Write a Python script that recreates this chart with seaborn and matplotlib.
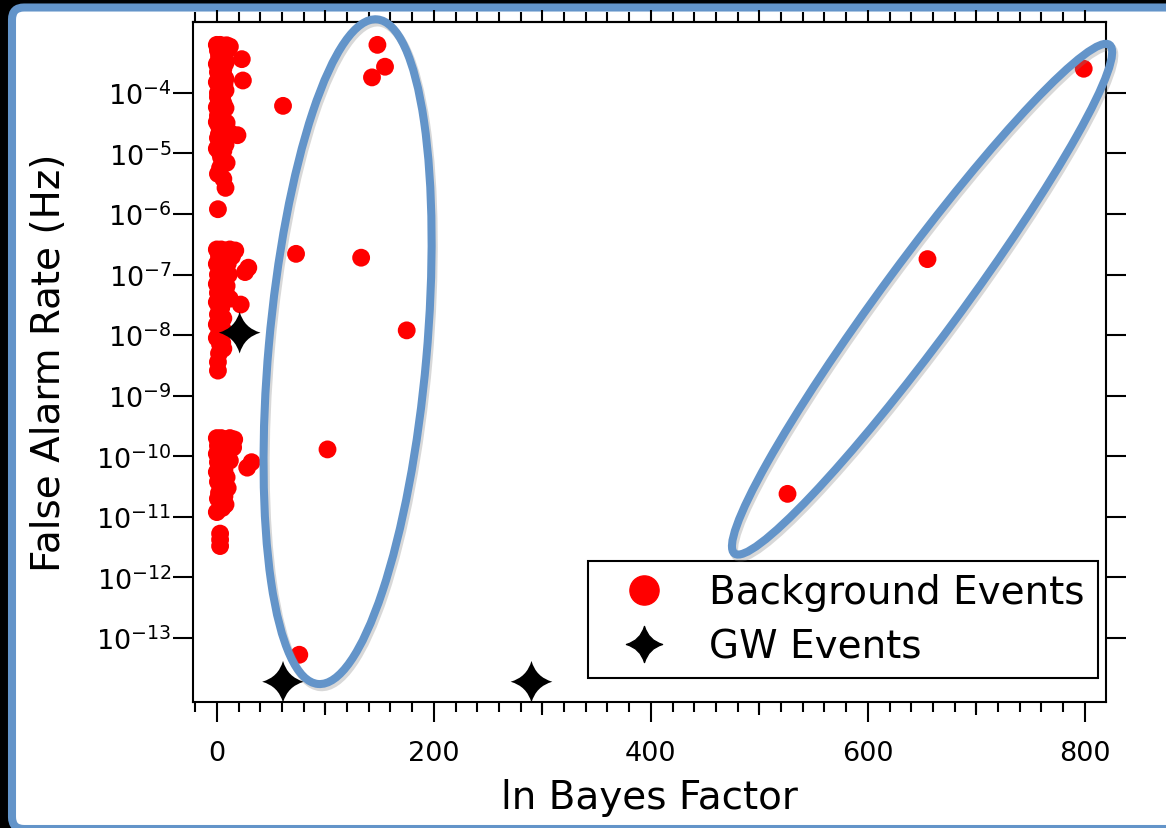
import numpy as np
import matplotlib
matplotlib.use("Agg")
import matplotlib.pyplot as plt
import seaborn as sns
from matplotlib.path import Path
from matplotlib.patches import Ellipse, FancyBboxPatch
from matplotlib.lines import Line2D
from matplotlib.ticker import MultipleLocator, NullLocator
from matplotlib.transforms import IdentityTransform

# -------------------------------
# DATA
# -------------------------------
# background events: ln Bayes factor / false alarm rate (Hz)
bg_lnbf = [
    # upper group
    0, 3, 6, 9, 12, 1, 5, 10, 23, 2, 7, 0, 4, 8, 1, 6, 24, 0, 3, 7,
    1, 5, 2, 6, 0, 4, 1, 6, 9, 2, 5, 19, 12, 1, 4, 8, 0, 3, 9, 3, 1,
    6, 8, 1,
    2, 6, 3, 6, 3, 8, 4, 8, 1, 4, 8, 3, 0, 7, 2, 6, 2, 6, 4,
    # middle group
    0, 4, 8, 12, 17, 2, 7, 14, 29, 26, 0, 5, 10, 1, 6, 11, 0, 4, 9,
    1, 6, 22, 12, 0, 4, 1, 6, 0, 3, 0, 5, 6, 2, 1, 1,
    2, 10, 3, 8, 3, 7, 3, 8, 2, 3, 5, 2, 3, 10,
    # lower group
    0, 4, 8, 12, 16, 1, 6, 11, 15, 32, 28, 0, 5, 10, 1, 6, 12, 0, 4, 9,
    1, 5, 10, 2, 7, 4, 8, 0, 3, 3, 3,
    2, 10, 3, 8, 3, 9, 3, 7, 3, 7, 4, 1, 5, 14,
    # outliers
    148, 155, 143, 61, 73, 133, 175, 102, 76, 799, 655, 526,
]
bg_far = [
    6.2e-4, 6.2e-4, 6.0e-4, 6.1e-4, 5.8e-4, 5.0e-4, 4.8e-4, 5.2e-4, 3.6e-4, 4.0e-4,
    3.8e-4, 3.0e-4, 2.8e-4, 3.1e-4, 2.2e-4, 2.0e-4, 1.6e-4, 1.5e-4, 1.3e-4, 1.4e-4,
    1.0e-4, 9.0e-5, 7.5e-5, 6.8e-5, 5.8e-5, 5.0e-5, 4.2e-5, 3.6e-5, 3.2e-5, 2.8e-5,
    2.4e-5, 2.0e-5, 2.2e-5, 1.8e-5, 1.5e-5, 1.4e-5, 1.2e-5, 1.0e-5, 7.0e-6, 5.8e-6,
    4.6e-6, 3.8e-6, 2.7e-6, 1.2e-6,
    5.6e-4, 4.4e-4, 3.4e-4, 2.5e-4, 1.8e-4, 1.7e-4, 1.15e-4, 1.1e-4, 8.5e-5, 6.2e-5,
    5.6e-5, 3.9e-5, 3.3e-5, 2.7e-5, 2.1e-5, 1.7e-5, 1.3e-5, 1.1e-5, 8.5e-6,
    2.6e-7, 2.6e-7, 2.5e-7, 2.6e-7, 2.5e-7, 2.0e-7, 2.1e-7, 2.0e-7, 1.3e-7, 1.1e-7,
    1.5e-7, 1.4e-7, 1.5e-7, 1.0e-7, 9.0e-8, 1.0e-7, 7.0e-8, 6.0e-8, 6.5e-8, 5.0e-8,
    4.5e-8, 3.2e-8, 4.0e-8, 3.5e-8, 2.8e-8, 2.2e-8, 1.9e-8, 1.5e-8, 1.2e-8, 9.0e-9,
    7.5e-9, 6.0e-9, 5.0e-9, 3.6e-9, 2.6e-9,
    2.3e-7, 2.3e-7, 1.7e-7, 1.2e-7, 8.0e-8, 7.5e-8, 4.2e-8, 5.5e-8, 3.0e-8, 1.7e-8,
    1.3e-8, 1.05e-8, 7.0e-9, 1.7e-7,
    2.0e-10, 2.0e-10, 1.9e-10, 2.0e-10, 1.9e-10, 1.5e-10, 1.6e-10, 1.5e-10, 1.4e-10, 8.0e-11,
    6.5e-11, 1.1e-10, 1.0e-10, 1.1e-10, 8.0e-11, 7.5e-11, 8.5e-11, 5.5e-11, 5.0e-11, 4.5e-11,
    3.8e-11, 3.3e-11, 3.0e-11, 2.5e-11, 2.2e-11, 1.8e-11, 1.6e-11, 1.2e-11, 5.3e-12, 4.2e-12,
    3.3e-12,
    1.8e-10, 1.7e-10, 1.3e-10, 1.25e-10, 9.0e-11, 9.5e-11, 6.5e-11, 6.0e-11, 4.2e-11, 3.6e-11,
    2.8e-11, 2.0e-11, 1.4e-11, 1.7e-10,
    6.2e-4, 2.7e-4, 1.8e-4, 6.1e-5, 2.2e-7, 1.9e-7, 1.2e-8, 1.3e-10, 5.3e-14, 2.5e-4,
    1.8e-7, 2.4e-11,
]

# GW events
gw_lnbf = [21, 61, 290]
gw_far = [1.1e-8, 1.9e-14, 1.9e-14]

y_ticks = [1e-4, 1e-5, 1e-6, 1e-7, 1e-8, 1e-9, 1e-10, 1e-11, 1e-12, 1e-13]
y_tick_labels = ["$10^{-%d}$" % k for k in range(4, 14)]

# highlight ellipses: the two tips (data coords) + half width in px
highlight_1 = [(148, 1.9e-3), (93, 1.5e-14), 79]
highlight_2 = [(475, 2.2e-12), (825, 7.0e-4), 39]

BLUE = "#6394C9"

# -------------------------------
# STYLE
# -------------------------------
sns.set_style("ticks")
plt.rcParams["font.family"] = ["DejaVu Sans"]
plt.rcParams["mathtext.fontset"] = "dejavusans"
for key in ["text.color", "axes.labelcolor", "xtick.color", "ytick.color",
            "xtick.labelcolor", "ytick.labelcolor", "axes.edgecolor"]:
    plt.rcParams[key] = "black"

# four point star marker with concave sides
c = 0.22
star = Path(
    [(0, 1), (c, c), (1, 0), (c, -c), (0, -1), (-c, -c), (-1, 0), (-c, c), (0, 1), (0, 0)],
    [Path.MOVETO] + [Path.CURVE3] * 8 + [Path.CLOSEPOLY],
)

fig = plt.figure(figsize=(11.66, 8.29), dpi=100, facecolor="black")

# slide frame
frame = FancyBboxPatch((12, -1), 1400, 821.5, boxstyle="round,pad=0,rounding_size=12",
                       transform=IdentityTransform(), fc="white", ec=BLUE, lw=5.8, zorder=-1)
fig.add_artist(frame)

ax = fig.add_axes([0.1655, 0.152, 0.783, 0.8203])
ax.set_facecolor("white")

# -------------------------------
# SCATTER
# -------------------------------
sns.scatterplot(x=bg_lnbf, y=bg_far, color="red", s=165, edgecolor="none",
                linewidth=0, ax=ax, legend=False, zorder=3)
sns.scatterplot(x=gw_lnbf, y=gw_far, color="black", marker=star, s=900,
                edgecolor="none", linewidth=0, ax=ax, legend=False, zorder=4)

ax.set_yscale("log")
ax.set_xlim(-22, 819.5)
ax.set_ylim(8.8e-15, 1.48e-3)

# -------------------------------
# AXES / TICKS  (lengths in points)
# -------------------------------
for s in ax.spines.values():
    s.set_linewidth(1.5)
    s.set_color("black")

ax.xaxis.set_major_locator(MultipleLocator(200))
ax.xaxis.set_minor_locator(MultipleLocator(20))
ax.tick_params(axis="x", which="major", direction="out", length=14.4, width=1.5,
               labelsize=19.5, pad=13, top=False, color="black", labelcolor="black")
ax.tick_params(axis="x", which="minor", direction="out", length=7.2, width=1.5,
               top=False, color="black")

ax.set_yticks(y_ticks)
ax.set_yticklabels(y_tick_labels)
ax.yaxis.set_minor_locator(NullLocator())
ax.tick_params(axis="y", which="major", direction="out", length=14.4, width=1.5,
               labelsize=19.5, pad=1, right=True, labelright=False, color="black",
               labelcolor="black")

# medium ticks at odd hundreds
mid = ax.secondary_xaxis("bottom")
mid.set_xticks([100, 300, 500, 700])
mid.xaxis.set_minor_locator(NullLocator())
mid.tick_params(length=9.4, width=1.5, labelbottom=False, direction="out", color="black")
mid.spines["bottom"].set_visible(False)

# top ticks, no labels
top = ax.secondary_xaxis("top")
top.xaxis.set_major_locator(MultipleLocator(100))
top.xaxis.set_minor_locator(MultipleLocator(20))
top.tick_params(which="major", length=8.6, width=1.5, labeltop=False, direction="out", color="black")
top.tick_params(which="minor", length=7.2, width=1.5, direction="out", color="black")
top.spines["top"].set_linewidth(1.5)

ax.set_xlabel("ln Bayes Factor", fontsize=28, labelpad=8.5, color="black")
ax.set_ylabel("False Alarm Rate (Hz)", fontsize=28, labelpad=20, color="black")

# -------------------------------
# LEGEND
# -------------------------------
handles = [
    Line2D([], [], ls="none", marker="o", color="red", markersize=21, label="Background Events"),
    Line2D([], [], ls="none", marker=star, color="black", markersize=26, label="GW Events"),
]
leg = ax.legend(handles=handles, loc="lower right", bbox_to_anchor=(0.991, 0.035),
                fontsize=28, frameon=True, fancybox=False, edgecolor="black", framealpha=1,
                borderpad=0.33, handlelength=2.25, handletextpad=0.55, labelspacing=0.41,
                borderaxespad=0)
leg.get_frame().set_linewidth(1.5)
leg.set_zorder(7)
for t in leg.get_texts():
    t.set_color("black")

# -------------------------------
# HIGHLIGHT ELLIPSES
# -------------------------------
def draw_highlight(tip_a, tip_b, half_width):
    (x0, y0), (x1, y1) = ax.transData.transform([tip_a, tip_b])
    length = np.hypot(x1 - x0, y1 - y0) - 8
    angle = np.degrees(np.arctan2(y1 - y0, x1 - x0))
    cx, cy = (x0 + x1) / 2, (y0 + y1) / 2
    shadow = Ellipse((cx + 2, cy - 3), length, 2 * half_width, angle=angle,
                     transform=IdentityTransform(), fill=False, lw=6, ec="0.5",
                     alpha=0.3, zorder=5)
    ring = Ellipse((cx, cy), length, 2 * half_width, angle=angle,
                   transform=IdentityTransform(), fill=False, lw=5.8, ec=BLUE, zorder=6)
    fig.add_artist(shadow)
    fig.add_artist(ring)


draw_highlight(*highlight_1)
draw_highlight(*highlight_2)

plt.savefig("out.png", dpi=100, facecolor=fig.get_facecolor())
